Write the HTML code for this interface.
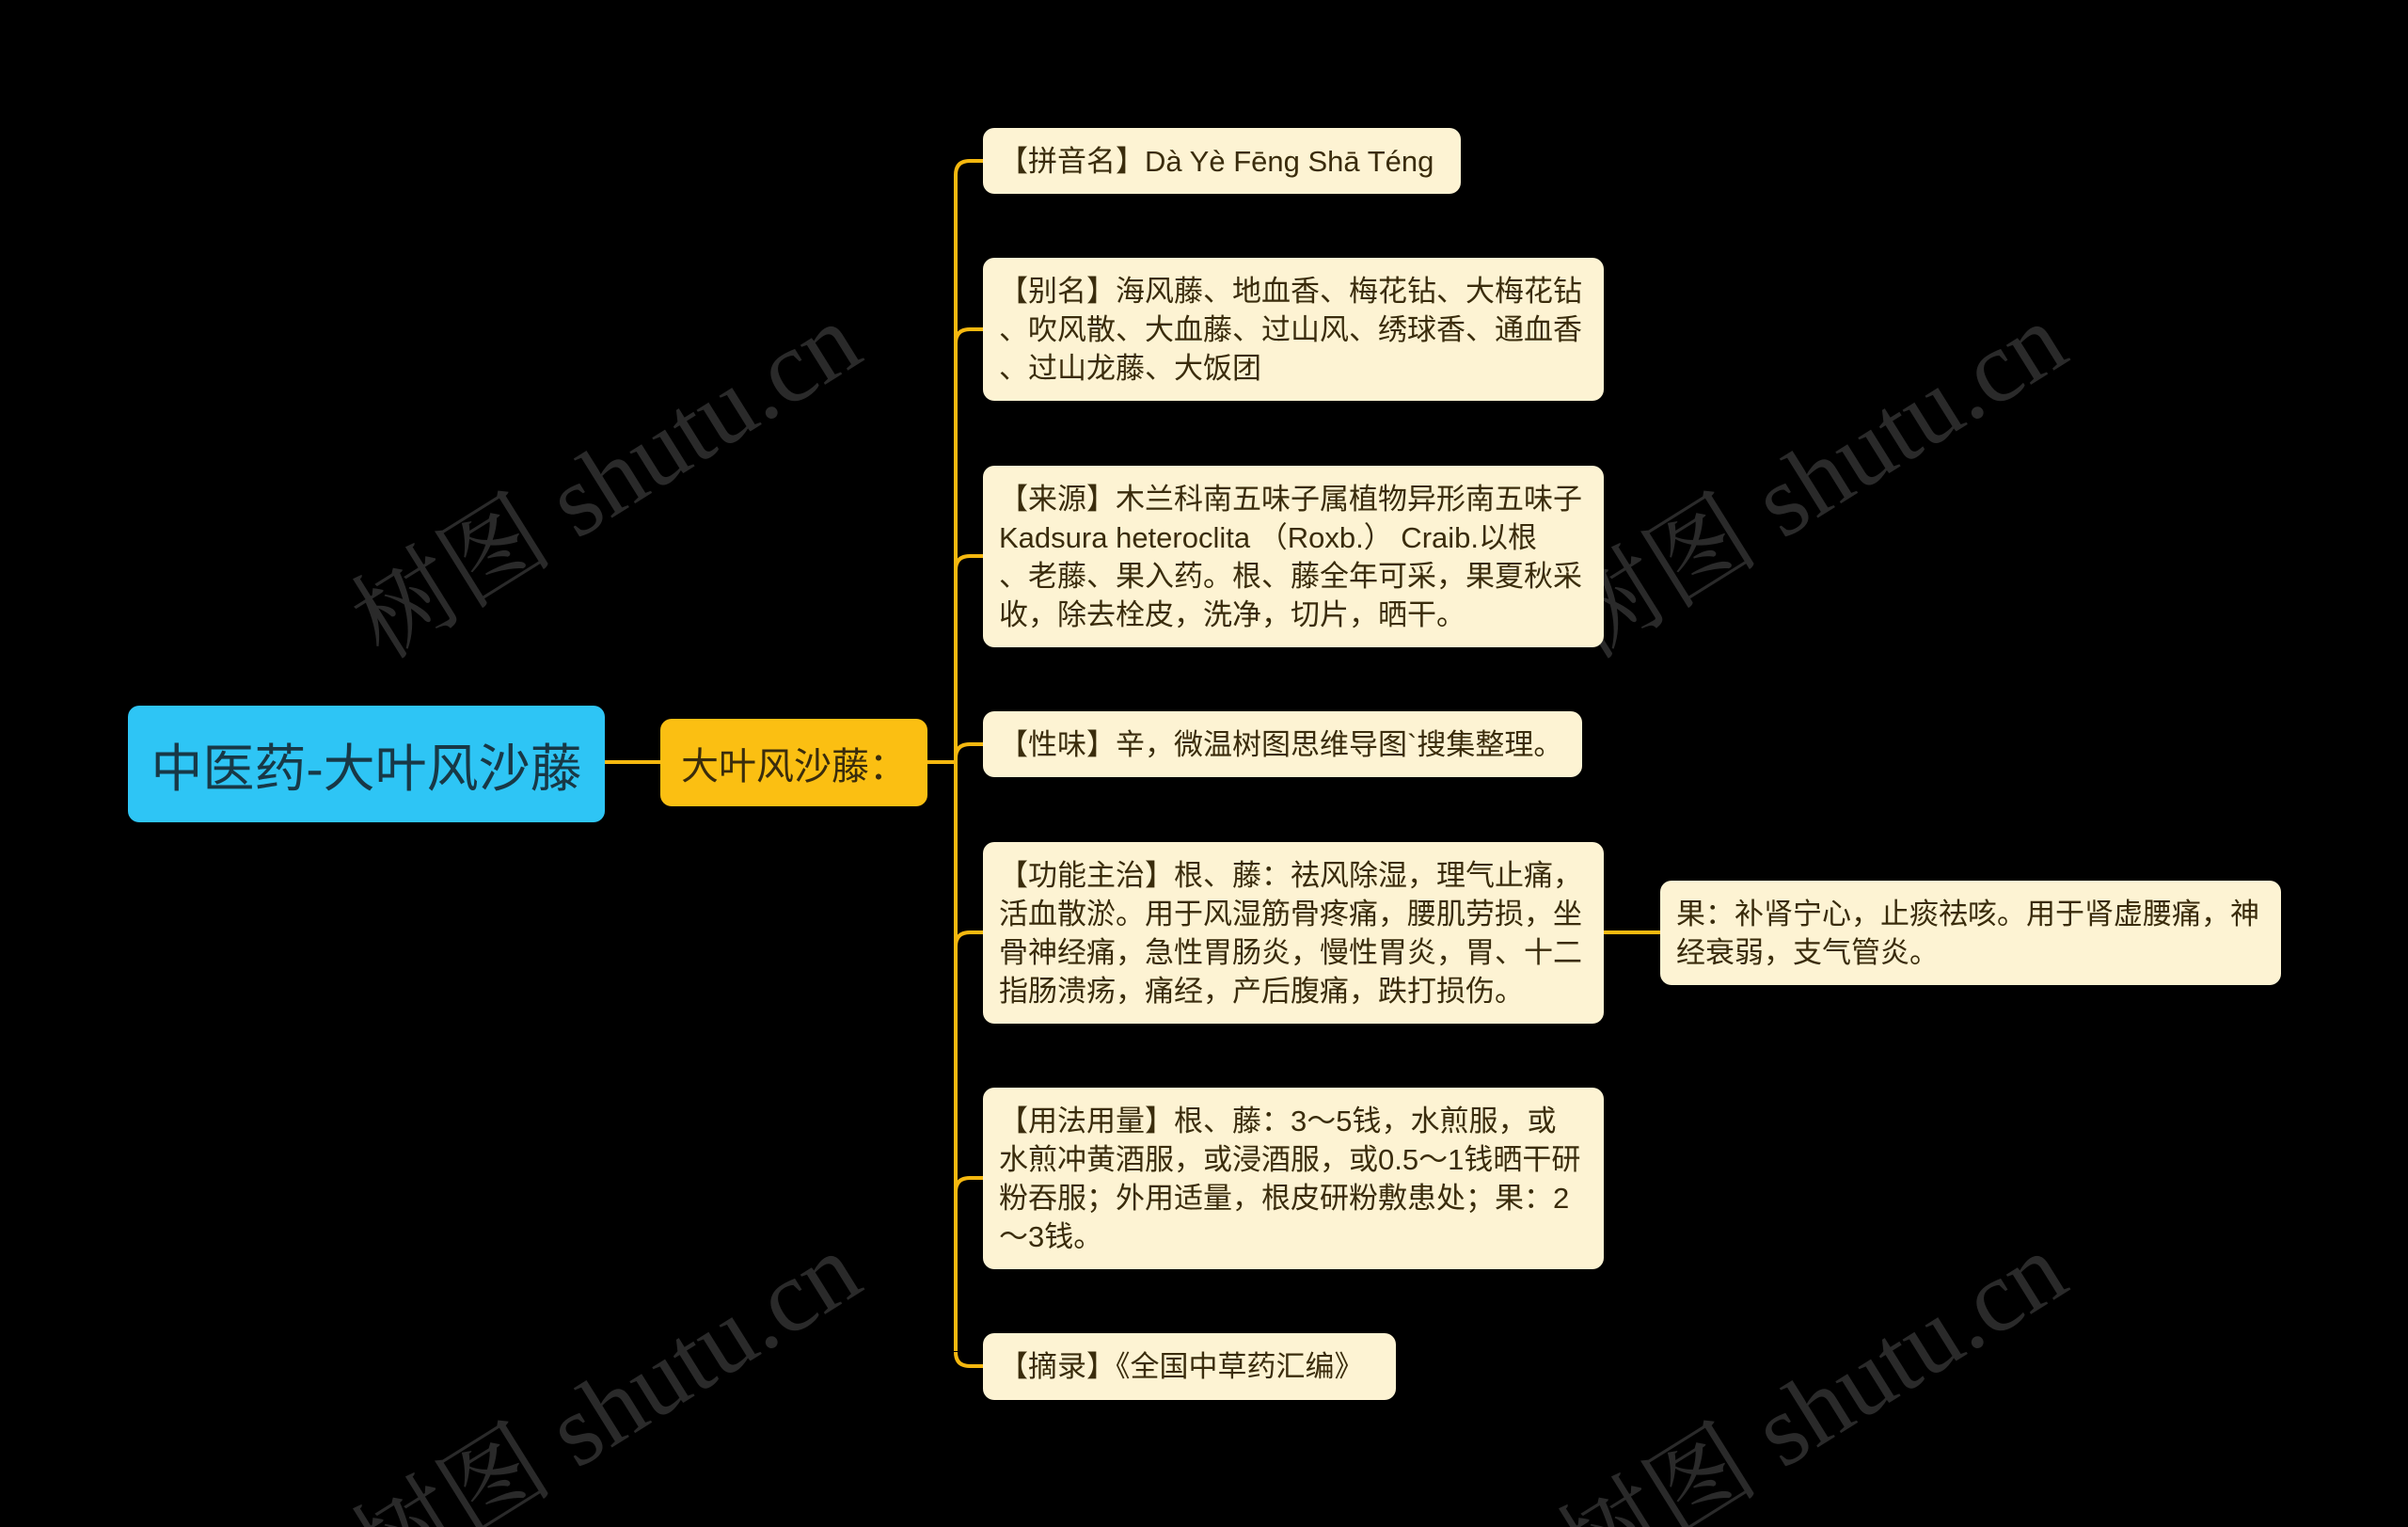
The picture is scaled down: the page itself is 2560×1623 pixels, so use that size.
<!DOCTYPE html>
<html style="margin:0;padding:0;overflow:hidden;width:2560px;height:1623px"><head><meta charset="utf-8"><style>
body{margin:0;padding:0;width:2560px;height:1623px;background:#000;overflow:hidden;font-family:"Liberation Sans","Noto Sans CJK SC",sans-serif;}
#c{position:relative;width:2560px;height:1623px;overflow:hidden;background:#000;}
.b{position:absolute;box-sizing:border-box;border-radius:12px;display:flex;align-items:center;white-space:nowrap;}
.l{background:#fdf3d3;color:#3a2c0c;font-size:31px;line-height:41px;padding-left:17px;}
</style></head><body><div id="c">
<svg width="2560" height="1623" viewBox="0 0 2560 1623" style="position:absolute;left:0;top:0;overflow:hidden">
<g fill="#2a2a2a" font-family="Liberation Serif, Noto Serif CJK SC, serif" font-size="108" text-anchor="middle" dominant-baseline="central">
<text transform="translate(645,512) rotate(-32)">树图 shutu.cn</text>
<text transform="translate(1927,512) rotate(-32)">树图 shutu.cn</text>
<text transform="translate(645,1500) rotate(-32)">树图 shutu.cn</text>
<text transform="translate(1927,1500) rotate(-32)">树图 shutu.cn</text>
</g>
<g fill="none" stroke="#f5b80f" stroke-width="4">
<path d="M643,810 L702,810"/>
<path d="M986,810 L1016,810"/>
<path d="M1016,186 L1016,1436"/>
<path d="M1016,186 Q1016,171 1031,171 L1045,171"/>
<path d="M1016,365 Q1016,350 1031,350 L1045,350"/>
<path d="M1016,606 Q1016,591 1031,591 L1045,591"/>
<path d="M1016,806 Q1016,791 1031,791 L1045,791"/>
<path d="M1016,1006 Q1016,991 1031,991 L1045,991"/>
<path d="M1016,1267 Q1016,1252 1031,1252 L1045,1252"/>
<path d="M1016,1437 Q1016,1452 1031,1452 L1045,1452"/>
<path d="M1705,991 L1765,991"/>
</g>
</svg>
<div class="b" style="left:136px;top:750px;width:507px;height:124px;background:#2ec5f5;color:#183846;font-size:55px;justify-content:center">中医药-大叶风沙藤</div>
<div class="b" style="left:702px;top:764px;width:284px;height:93px;background:#fbbf12;color:#3a2c0c;font-size:40px;justify-content:center">大叶风沙藤：</div>
<div class="b l" style="left:1045px;top:136px;width:508px;height:70px">【拼音名】Dà Yè Fēng Shā Téng</div>
<div class="b l" style="left:1045px;top:274px;width:660px;height:152px">【别名】海风藤、地血香、梅花钻、大梅花钻<br>、吹风散、大血藤、过山风、绣球香、通血香<br>、过山龙藤、大饭团</div>
<div class="b l" style="left:1045px;top:495px;width:660px;height:193px">【来源】木兰科南五味子属植物异形南五味子<br>Kadsura heteroclita （Roxb.） Craib.以根<br>、老藤、果入药。根、藤全年可采，果夏秋采<br>收，除去栓皮，洗净，切片，晒干。</div>
<div class="b l" style="left:1045px;top:756px;width:637px;height:70px">【性味】辛，微温树图思维导图`搜集整理。</div>
<div class="b l" style="left:1045px;top:895px;width:660px;height:193px">【功能主治】根、藤：祛风除湿，理气止痛，<br>活血散淤。用于风湿筋骨疼痛，腰肌劳损，坐<br>骨神经痛，急性胃肠炎，慢性胃炎，胃、十二<br>指肠溃疡，痛经，产后腹痛，跌打损伤。</div>
<div class="b l" style="left:1045px;top:1156px;width:660px;height:193px">【用法用量】根、藤：3～5钱，水煎服，或<br>水煎冲黄酒服，或浸酒服，或0.5～1钱晒干研<br>粉吞服；外用适量，根皮研粉敷患处；果：2<br>～3钱。</div>
<div class="b l" style="left:1045px;top:1417px;width:439px;height:71px">【摘录】《全国中草药汇编》</div>
<div class="b l" style="left:1765px;top:936px;width:660px;height:111px">果：补肾宁心，止痰祛咳。用于肾虚腰痛，神<br>经衰弱，支气管炎。</div>
</div></body></html>
